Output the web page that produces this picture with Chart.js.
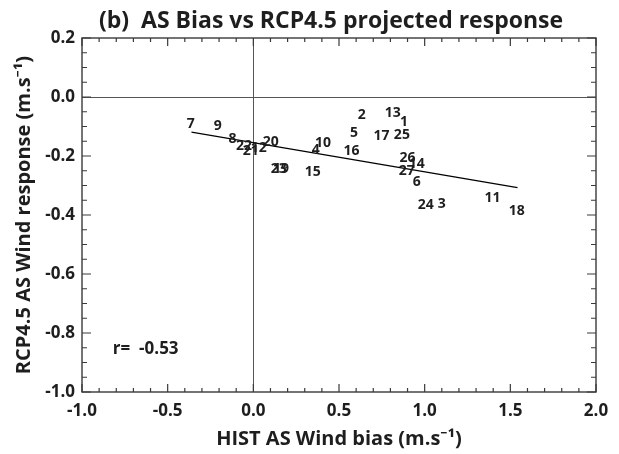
<!DOCTYPE html>
<html>
<head>
<meta charset="utf-8">
<script src="https://cdn.jsdelivr.net/npm/chart.js@4.4.1/dist/chart.umd.min.js"></script>
<style>
  body { margin: 0; background: #fff; }
  #wrap { width: 619px; height: 454px; }
</style>
</head>
<body>
<div id="wrap"><canvas id="myChart" width="619" height="454"></canvas></div>
<script>
// model numbers and their (bias, response) pairs
const models = ['1','2','3','4','5','6','7','8','9','10','11','12','13','14','15','16','17','18','19','20','21','22','23','24','25','26','27'];
const biasX = [0.879, 0.633, 1.100, 0.365, 0.587, 0.954, -0.365, -0.121, -0.207, 0.406, 1.396, 0.032, 0.814, 0.954, 0.347, 0.573, 0.748, 1.538, 0.161, 0.102, -0.015, -0.055, 0.149, 1.007, 0.867, 0.900, 0.896];
const respY = [-0.099, -0.076, -0.376, -0.194, -0.137, -0.302, -0.106, -0.155, -0.113, -0.171, -0.356, -0.187, -0.069, -0.241, -0.269, -0.195, -0.147, -0.401, -0.259, -0.167, -0.198, -0.181, -0.259, -0.381, -0.143, -0.220, -0.265];

// regression line ends
const fitX = [-0.361, 1.542];
const fitY = [-0.119, -0.307];

const titleText = '(b)  AS Bias vs RCP4.5 projected response';
const xTitle = 'HIST AS Wind bias (m.s\u207B\u00B9)';
const yTitle = 'RCP4.5 AS Wind response (m.s\u207B\u00B9)';
const rLabel = 'r=  -0.53';
const rPos = [-0.82, -0.87];

const FONT = "'Open Sans', 'Noto Sans', sans-serif";
const INK = '#1e1e1e';

let points = biasX.map((x, i) => ({x: x, y: respY[i]}));
let fitLine = fitX.map((x, i) => ({x: x, y: fitY[i]}));

function fmt(v){
    return Math.abs(v) < 1e-9 ? '0.0' : v.toFixed(1);
}

let framePlugin = {
    id: 'frame',
    afterDatasetsDraw(chart){
        let ctx = chart.ctx;
        let meta = chart.getDatasetMeta(0);
        ctx.save();
        ctx.fillStyle = INK;
        ctx.font = 'bold 14px ' + FONT;
        ctx.textAlign = 'center';
        ctx.textBaseline = 'alphabetic';
        meta.data.forEach((el, i) => {
            ctx.fillText(models[i], el.x, el.y);
        })
        ctx.restore();
    },
    afterDraw(chart){
        let ctx = chart.ctx;
        let a = chart.chartArea;
        let xs = chart.scales.x;
        let ys = chart.scales.y;
        ctx.save();
        ctx.strokeStyle = '#3a3a3a';
        ctx.lineWidth = 1.4;
        ctx.strokeRect(a.left, a.top, a.right - a.left, a.bottom - a.top);
        ctx.lineWidth = 1.2;
        ctx.beginPath();
        for(let i = 0; i <= 30; i++){
            let px = xs.getPixelForValue(-1 + i * 0.1);
            let len = i % 5 === 0 ? 8 : 4;
            ctx.moveTo(px, a.bottom); ctx.lineTo(px, a.bottom - len);
            ctx.moveTo(px, a.top); ctx.lineTo(px, a.top + len);
        }
        for(let i = 0; i <= 24; i++){
            let py = ys.getPixelForValue(-1 + i * 0.05);
            let len = i % 4 === 0 ? 9 : 5;
            ctx.moveTo(a.left, py); ctx.lineTo(a.left + len, py);
            ctx.moveTo(a.right, py); ctx.lineTo(a.right - len, py);
        }
        ctx.stroke();

        ctx.fillStyle = INK;
        ctx.font = 'bold 17px ' + FONT;
        ctx.textAlign = 'left';
        ctx.fillText(rLabel, xs.getPixelForValue(rPos[0]), ys.getPixelForValue(rPos[1]));

        ctx.font = 'bold 23px ' + FONT;
        ctx.textAlign = 'center';
        ctx.fillText(titleText, 331, 28);
        ctx.restore();
    }
};

let ctx = document.getElementById('myChart').getContext('2d');
let myChart = new Chart(ctx, {
    type: 'scatter',
    data: {
        datasets: [
            {
                label: 'models',
                data: points,
                pointRadius: 0,
                pointHoverRadius: 0,
                showLine: false
            },
            {
                label: 'fit',
                type: 'line',
                data: fitLine,
                borderColor: '#000',
                borderWidth: 1.2,
                pointRadius: 0,
                fill: false
            }
        ]
    },
    options: {
        responsive: false,
        animation: false,
        layout: { padding: { top: 38, right: 23, left: 0, bottom: 0 } },
        plugins: {
            legend: { display: false },
            tooltip: { enabled: false },
            title: { display: false }
        },
        scales: {
            x: {
                type: 'linear',
                min: -1, max: 2,
                afterFit: (s) => { s.height = 62; },
                ticks: {
                    stepSize: 0.5,
                    color: INK,
                    padding: 9,
                    font: { family: FONT, size: 17, weight: 'bold' },
                    callback: (v) => fmt(v)
                },
                grid: {
                    drawTicks: false,
                    color: (c) => c.tick && Math.abs(c.tick.value) < 1e-9 ? '#555' : 'rgba(0,0,0,0)',
                    lineWidth: 1
                },
                border: { display: false },
                title: {
                    display: true,
                    text: xTitle,
                    color: INK,
                    padding: { top: 0, bottom: 3 },
                    font: { family: FONT, size: 20, weight: 'bold' }
                }
            },
            y: {
                min: -1, max: 0.2,
                afterFit: (s) => { s.width = 82; },
                ticks: {
                    stepSize: 0.2,
                    color: INK,
                    padding: 7,
                    font: { family: FONT, size: 17, weight: 'bold' },
                    callback: (v) => fmt(v)
                },
                grid: {
                    drawTicks: false,
                    color: (c) => c.tick && Math.abs(c.tick.value) < 1e-9 ? '#555' : 'rgba(0,0,0,0)',
                    lineWidth: 1
                },
                border: { display: false },
                title: {
                    display: true,
                    text: yTitle,
                    color: INK,
                    padding: { top: 12, bottom: 0 },
                    font: { family: FONT, size: 20, weight: 'bold' }
                }
            }
        }
    },
    plugins: [framePlugin]
});
</script>
</body>
</html>
